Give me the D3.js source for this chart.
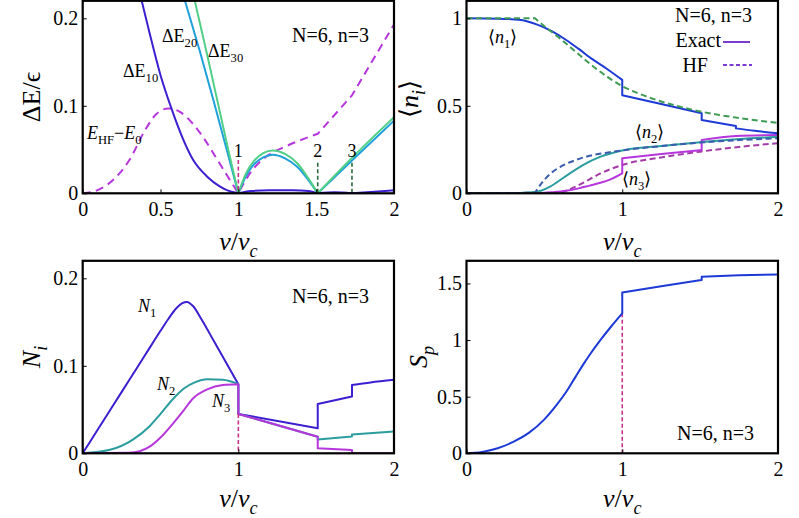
<!DOCTYPE html>
<html>
<head>
<meta charset="utf-8">
<script src="https://cdn.jsdelivr.net/npm/d3@7"></script>
<style>
  html, body { margin: 0; padding: 0; background: #fff; }
  svg { display: block; font-family: "Liberation Serif", "Times New Roman", serif; }
</style>
</head>
<body>
<svg id="chart" width="799" height="518"></svg>
<script>
// ---- data (v/vc, value); each series is a list of continuous segments,
// consecutive segments are joined by vertical jumps

// panel (a): excitation gaps
const dE10 = [
  [[0.379, 0.22], [0.43, 0.183], [0.5, 0.135], [0.57, 0.097], [0.64, 0.064], [0.71, 0.038], [0.8, 0.019], [0.88, 0.008], [0.95, 0.002], [1, 0]],
  [[1, 0], [1.08, 0.0025], [1.2, 0.0035], [1.35, 0.0035], [1.45, 0.0025], [1.51, 0]],
  [[1.51, 0], [1.62, 0.0012], [1.73, 0]],
  [[1.73, 0], [1.85, 0.0015], [2, 0.0035]]
];
const dE20 = [
  [[0.657, 0.22], [0.753, 0.162], [0.839, 0.107], [0.925, 0.05], [1, 0]],
  [[1, 0], [1.05, 0.02], [1.1, 0.033], [1.16, 0.041], [1.22, 0.044], [1.3, 0.04], [1.38, 0.03], [1.45, 0.015], [1.51, 0]],
  [[1.51, 0], [1.75, 0.041], [2, 0.083]]
];
const dE30 = [
  [[0.72, 0.22], [0.8, 0.158], [0.88, 0.094], [0.94, 0.046], [1, 0]],
  [[1, 0], [1.05, 0.023], [1.1, 0.037], [1.16, 0.046], [1.22, 0.049], [1.3, 0.045], [1.38, 0.034], [1.45, 0.017], [1.51, 0]],
  [[1.51, 0], [1.75, 0.044], [2, 0.087]]
];
const eHF = [
  [[0, 0], [0.1, 0.004], [0.2, 0.016], [0.3, 0.038], [0.4, 0.072], [0.47, 0.09], [0.55, 0.097], [0.625, 0.093], [0.71, 0.079], [0.8, 0.057], [0.88, 0.034], [0.95, 0.014], [1, 0]],
  [[1, 0], [1.075, 0.023], [1.18, 0.042], [1.31, 0.054], [1.51, 0.068]],
  [[1.51, 0.068], [1.73, 0.112]],
  [[1.73, 0.112], [2, 0.193]]
];
const markV = [1, 1.51, 1.73];
const markLabels = ["1", "2", "3"];
const markTop = [0.038, 0.035, 0.035];

// panel (b): occupations
const n1Exact = [
  [[0, 1], [0.2, 0.998], [0.35, 0.99], [0.45, 0.965], [0.55, 0.925], [0.64, 0.876], [0.72, 0.825], [0.81, 0.765], [0.9, 0.712], [1, 0.648]],
  [[1, 0.56], [1.25, 0.51], [1.51, 0.457]],
  [[1.51, 0.419], [1.73, 0.385]],
  [[1.73, 0.371], [1.85, 0.357], [2, 0.343]]
];
const n1HF = [
  [[0, 1], [0.44, 1]],
  [[0.44, 1], [0.5, 0.955], [0.6, 0.885], [0.7, 0.81], [0.8, 0.735], [0.9, 0.668], [1, 0.612], [1.1, 0.572], [1.25, 0.525], [1.5, 0.468], [1.75, 0.43], [2, 0.402]]
];
const n2Exact = [
  [[0, 0], [0.3, 0.001], [0.44, 0.007], [0.54, 0.04], [0.64, 0.1], [0.75, 0.163], [0.857, 0.208], [1, 0.245], [1.25, 0.27], [1.5, 0.292], [1.75, 0.31], [2, 0.323]]
];
const n2HF = [
  [[0, 0], [0.44, 0.003]],
  [[0.44, 0.003], [0.48, 0.055], [0.536, 0.11], [0.6, 0.15], [0.7, 0.19], [0.8, 0.216], [0.9, 0.232], [1, 0.245], [1.25, 0.27], [1.5, 0.29], [1.75, 0.304], [2, 0.315]]
];
const n3Exact = [
  [[0, 0], [0.44, 0.001], [0.55, 0.006], [0.64, 0.014], [0.72, 0.028], [0.79, 0.044], [0.86, 0.06], [0.92, 0.078], [1, 0.114]],
  [[1, 0.2], [1.25, 0.224], [1.51, 0.247]],
  [[1.51, 0.305], [1.73, 0.327], [2, 0.333]]
];
const n3HF = [
  [[0, 0], [0.6, 0]],
  [[0.6, 0], [0.65, 0.018], [0.7, 0.038], [0.79, 0.08], [0.857, 0.112], [0.93, 0.14], [1, 0.162], [1.25, 0.205], [1.5, 0.238], [1.75, 0.265], [2, 0.286]]
];

// panel (c): N_i
const N1 = [
  [[0, 0], [0.1, 0.028], [0.2, 0.056], [0.3, 0.084], [0.4, 0.112], [0.5, 0.14], [0.55, 0.1535], [0.6, 0.1655], [0.64, 0.1715], [0.67, 0.173], [0.71, 0.168], [0.76, 0.154], [0.85, 0.126], [1, 0.079]],
  [[1, 0.045], [1.51, 0.0286]],
  [[1.51, 0.0563], [1.73, 0.0648]],
  [[1.73, 0.078], [1.85, 0.081], [2, 0.084]]
];
const N2 = [
  [[0, 0], [0.175, 0.004], [0.325, 0.016], [0.43, 0.031], [0.5, 0.045], [0.58, 0.062], [0.65, 0.074], [0.72, 0.081], [0.8, 0.0845], [0.9, 0.084], [1, 0.079]],
  [[1, 0.045], [1.51, 0.019]],
  [[1.51, 0.0157], [1.73, 0.0191]],
  [[1.73, 0.0215], [2, 0.025]]
];
const N3 = [
  [[0, 0], [0.3, 0.0005], [0.43, 0.0076], [0.5, 0.018], [0.58, 0.034], [0.64, 0.047], [0.71, 0.063], [0.8, 0.073], [0.9, 0.078], [1, 0.079]],
  [[1, 0.045], [1.51, 0.019]],
  [[1.51, 0.0057], [1.73, 0.0038]],
  [[1.73, 0], [2, 0]]
];

// panel (d): S_p
const Sp = [
  [[0, 0], [0.1, 0.012], [0.2, 0.045], [0.3, 0.1], [0.4, 0.18], [0.5, 0.3], [0.58, 0.43], [0.644, 0.55], [0.7, 0.675], [0.75, 0.785], [0.79, 0.868], [0.857, 0.995], [0.93, 1.122], [1, 1.236]],
  [[1, 1.42], [1.25, 1.475], [1.51, 1.53]],
  [[1.51, 1.56], [1.75, 1.572], [2, 1.58]]
];

// ticks
const xTicksA = [0, 0.5, 1, 1.5, 2], xLabelsA = ["0", "0.5", "1", "1.5", "2"];
const xTicks = [0, 1, 2], xLabels = ["0", "1", "2"];
const yTicksGap = [0, 0.1, 0.2], yLabelsGap = ["0", "0.1", "0.2"];
const yTicksOcc = [0, 0.5, 1], yLabelsOcc = ["0", "0.5", "1"];
const yTicksSp = [0, 0.5, 1, 1.5], yLabelsSp = ["0", "0.5", "1", "1.5"];

// ---- layout
const PANEL_H = 192.5;
const LEFT = [82.7, 394], RIGHT = [466.5, 778];
const TOP_BASE = 193.3, BOT_BASE = 453.3;

const svg = d3.select("#chart");

function makePanel(key, xRange, yBase, yMax, xt, xl, yt, yl) {
  const x = d3.scaleLinear().domain([0, 2]).range(xRange);
  const y = d3.scaleLinear().domain([0, yMax]).range([yBase, yBase - PANEL_H]);
  const g = svg.append("g");

  g.append("clipPath").attr("id", "clip-" + key)
    .append("rect")
    .attr("x", xRange[0]).attr("y", yBase - PANEL_H)
    .attr("width", xRange[1] - xRange[0]).attr("height", PANEL_H);

  const plot = g.append("g").attr("clip-path", `url(#clip-${key})`);
  const top = g.append("g");

  const ax = top.append("g")
    .attr("transform", `translate(0,${yBase})`)
    .call(d3.axisBottom(x).tickValues(xt).tickFormat((d, i) => xl[i])
      .tickSizeInner(-4).tickSizeOuter(0).tickPadding(8.5));
  const ay = top.append("g")
    .attr("transform", `translate(${xRange[0]},0)`)
    .call(d3.axisLeft(y).tickValues(yt).tickFormat((d, i) => yl[i])
      .tickSizeInner(-4).tickSizeOuter(0).tickPadding(4.5));
  [ax, ay].forEach(a => {
    a.attr("font-family", null).attr("font-size", 20);
    a.select(".domain").remove();
    a.selectAll("line").attr("stroke", "#000").attr("stroke-width", 1);
    a.selectAll("text").attr("fill", "#000");
  });

  top.append("rect")
    .attr("x", xRange[0]).attr("y", yBase - PANEL_H)
    .attr("width", xRange[1] - xRange[0]).attr("height", PANEL_H)
    .attr("fill", "none").attr("stroke", "#000").attr("stroke-width", 2.2);

  return { x, y, plot, top };
}

// one path per series; segments joined by vertical jumps
function drawSeries(p, segs, color, dash, width = 2) {
  const line = d3.line().x(d => p.x(d[0])).y(d => p.y(d[1])).curve(d3.curveMonotoneX);
  const d = segs.map((s, i) => {
    const str = line(s);
    return i === 0 ? str : "L" + str.slice(1);
  }).join("");
  p.plot.append("path")
    .attr("d", d)
    .attr("fill", "none")
    .attr("stroke", color)
    .attr("stroke-width", width)
    .attr("stroke-dasharray", dash || null)
    .attr("stroke-linejoin", "round");
}

function vDash(p, v, y0, y1, color) {
  p.plot.append("line")
    .attr("x1", p.x(v)).attr("x2", p.x(v))
    .attr("y1", p.y(y0)).attr("y2", p.y(y1))
    .attr("stroke", color).attr("stroke-width", 1.6)
    .attr("stroke-dasharray", "4,2.5");
}

// text with italic ("i") and subscript ("s") parts
function rich(sel, x, y, parts, size, anchor = "start") {
  const t = sel.append("text")
    .attr("x", x).attr("y", y)
    .attr("font-size", size)
    .attr("text-anchor", anchor)
    .attr("fill", "#000");
  let shift = 0;
  parts.forEach(([s, f = ""]) => {
    const sub = f.includes("s");
    const target = sub ? size * 0.27 : 0;
    const ts = t.append("tspan").text(s).attr("dy", target - shift);
    if (sub) ts.attr("font-size", size * 0.7);
    if (f.includes("i")) ts.attr("font-style", "italic");
    shift = target;
  });
  return t;
}

function rotLabel(x, y, parts, size) {
  const g = svg.append("g").attr("transform", `translate(${x},${y}) rotate(-90)`);
  rich(g, 0, 0, parts, size, "middle");
}

const vLabel = [["v", "i"], ["/"], ["v", "i"], ["c", "si"]];

// colours
const VIOLET = "#3b1fd0", CYAN = "#1ea0db", LGREEN = "#52cf87", MAGENTA = "#b636dc";
const BLUE = "#1d3ad6", TEAL = "#2c9d9e", HFGREEN = "#3d9b52", HFBLUE = "#3b5cae", HFPURPLE = "#a13ca6";
const PINK = "#c8308c", DKGREEN = "#2b6a3d", LEGEND = "#7a3cd0";

// ---- panel (a)
const pa = makePanel("a", LEFT, TOP_BASE, 0.22, xTicksA, xLabelsA, yTicksGap, yLabelsGap);
drawSeries(pa, eHF, MAGENTA, "8,5.5");
drawSeries(pa, dE10, VIOLET);
drawSeries(pa, dE20, CYAN);
drawSeries(pa, dE30, LGREEN);
markV.forEach((v, i) => {
  vDash(pa, v, markTop[i], 0, i === 0 ? PINK : DKGREEN);
  pa.top.append("text").attr("x", pa.x(v)).attr("y", 157)
    .attr("text-anchor", "middle").attr("font-size", 18).text(markLabels[i]);
});
rich(pa.top, 123, 77, [["ΔE"], ["10", "s"]], 18);
rich(pa.top, 162, 42, [["ΔE"], ["20", "s"]], 18);
rich(pa.top, 208, 57, [["ΔE"], ["30", "s"]], 18);
rich(pa.top, 87, 139, [["E", "i"], ["HF", "s"], ["−"], ["E", "i"], ["0", "s"]], 18);
pa.top.append("text").attr("x", 292).attr("y", 42).attr("font-size", 20).text("N=6, n=3");
rotLabel(40, 97, [["ΔE/ϵ"]], 26);
rich(svg, pa.x(1), 250, vLabel, 26, "middle");

// ---- panel (b)
const pb = makePanel("b", RIGHT, TOP_BASE, 1.1, xTicks, xLabels, yTicksOcc, yLabelsOcc);
drawSeries(pb, n3HF, HFPURPLE, "6,3.5");
drawSeries(pb, n3Exact, MAGENTA);
drawSeries(pb, n2Exact, TEAL);
drawSeries(pb, n2HF, HFBLUE, "6,3.5");
drawSeries(pb, n1Exact, BLUE);
drawSeries(pb, n1HF, HFGREEN, "6,3.5");
pb.top.append("text").attr("x", 675).attr("y", 22).attr("font-size", 20).text("N=6, n=3");
pb.top.append("text").attr("x", 721).attr("y", 47).attr("font-size", 20).attr("text-anchor", "end").text("Exact");
pb.top.append("line").attr("x1", 723).attr("x2", 750).attr("y1", 42).attr("y2", 42)
  .attr("stroke", LEGEND).attr("stroke-width", 2);
pb.top.append("text").attr("x", 708).attr("y", 72).attr("font-size", 20).attr("text-anchor", "end").text("HF");
pb.top.append("line").attr("x1", 723).attr("x2", 752).attr("y1", 65).attr("y2", 65)
  .attr("stroke", LEGEND).attr("stroke-width", 2).attr("stroke-dasharray", "4,2.5");
rich(pb.top, 488, 43, [["⟨"], ["n", "i"], ["1", "s"], ["⟩"]], 18);
rich(pb.top, 635, 138, [["⟨"], ["n", "i"], ["2", "s"], ["⟩"]], 18);
rich(pb.top, 622, 185, [["⟨"], ["n", "i"], ["3", "s"], ["⟩"]], 18);
rotLabel(418, 99, [["⟨"], ["n", "i"], ["i", "si"], ["⟩"]], 26);
rich(svg, pb.x(1), 250, vLabel, 26, "middle");

// ---- panel (c)
const pc = makePanel("c", LEFT, BOT_BASE, 0.22, xTicks, xLabels, yTicksGap, yLabelsGap);
drawSeries(pc, N1, VIOLET);
drawSeries(pc, N2, TEAL);
drawSeries(pc, N3, MAGENTA);
vDash(pc, 1, 0.045, 0, PINK);
rich(pc.top, 138, 312, [["N", "i"], ["1", "s"]], 18);
rich(pc.top, 157, 390, [["N", "i"], ["2", "s"]], 18);
rich(pc.top, 212, 407, [["N", "i"], ["3", "s"]], 18);
pc.top.append("text").attr("x", 292).attr("y", 303).attr("font-size", 20).text("N=6, n=3");
rotLabel(40, 357, [["N", "i"], ["i", "si"]], 26);
rich(svg, pc.x(1), 507, vLabel, 26, "middle");

// ---- panel (d)
const pd = makePanel("d", RIGHT, BOT_BASE, 1.7, xTicks, xLabels, yTicksSp, yLabelsSp);
vDash(pd, 1, 1.236, 0, PINK);
drawSeries(pd, Sp, BLUE);
pd.top.append("text").attr("x", 677).attr("y", 440).attr("font-size", 20).text("N=6, n=3");
rotLabel(427, 357, [["S", "i"], ["p", "si"]], 26);
rich(svg, pd.x(1), 507, vLabel, 26, "middle");
</script>
</body>
</html>
